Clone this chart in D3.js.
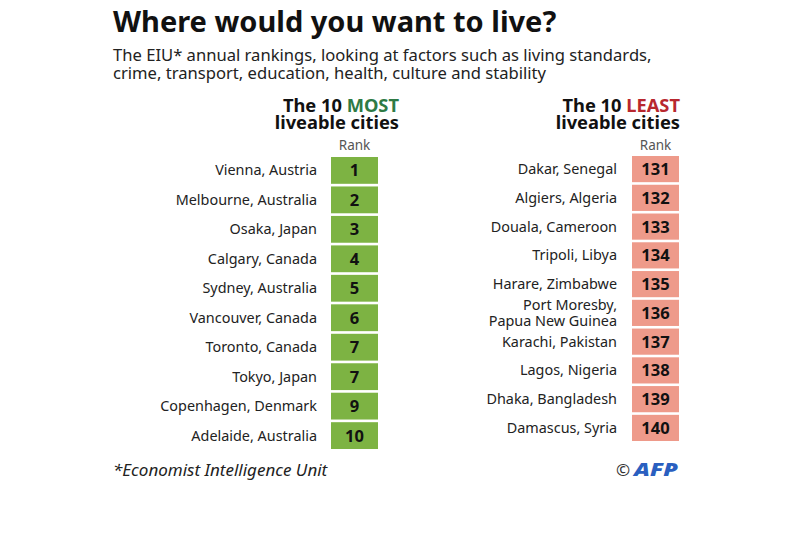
<!DOCTYPE html>
<html><head><meta charset="utf-8">
<script src="https://cdn.jsdelivr.net/npm/d3@7"></script>
<style>body{margin:0;background:#fff}svg{display:block}</style>
</head><body>
<script>
const mostCities = ["Vienna, Austria","Melbourne, Australia","Osaka, Japan","Calgary, Canada","Sydney, Australia","Vancouver, Canada","Toronto, Canada","Tokyo, Japan","Copenhagen, Denmark","Adelaide, Australia"];
const mostRanks = [1,2,3,4,5,6,7,7,9,10];
const leastCities = ["Dakar, Senegal","Algiers, Algeria","Douala, Cameroon","Tripoli, Libya","Harare, Zimbabwe","Port Moresby,\nPapua New Guinea","Karachi, Pakistan","Lagos, Nigeria","Dhaka, Bangladesh","Damascus, Syria"];
const leastRanks = [131,132,133,134,135,136,137,138,139,140];

const W = 800, H = 534;
const font = "'Noto Sans', 'Open Sans', sans-serif";
const svg = d3.select("body").append("svg").attr("width", W).attr("height", H)
  .style("font-family", font);

svg.append("text").attr("x", 113).attr("y", 32).attr("font-size", 29).attr("font-weight", 700)
  .attr("fill", "#111").text("Where would you want to live?");
const sub = svg.append("text").attr("x", 113).attr("font-size", 16.6).attr("fill", "#222");
sub.append("tspan").attr("x", 113).attr("y", 61).text("The EIU* annual rankings, looking at factors such as living standards,");
sub.append("tspan").attr("x", 113).attr("y", 79).text("crime, transport, education, health, culture and stability");

function panel(cities, ranks, opt) {
  const y = d3.scaleBand().domain(d3.range(cities.length)).range(opt.yr).paddingInner(0.09);
  const g = svg.append("g");
  const h1 = g.append("text").attr("x", opt.hx).attr("y", 111.5).attr("text-anchor", "end")
    .attr("font-size", 18.3).attr("font-weight", 700).attr("fill", "#111");
  h1.append("tspan").text("The 10 ");
  h1.append("tspan").attr("fill", opt.hc).text(opt.word);
  g.append("text").attr("x", opt.hx).attr("y", 128.5).attr("text-anchor", "end")
    .attr("font-size", 18.3).attr("font-weight", 700).attr("fill", "#111").text("liveable cities");
  g.append("text").attr("x", opt.cx + opt.cw / 2).attr("y", 150).attr("text-anchor", "middle")
    .attr("font-size", 13.5).attr("fill", "#555").text("Rank");
  g.selectAll("rect.c").data(ranks).join("rect")
    .attr("x", opt.cx).attr("width", opt.cw)
    .attr("y", (d, i) => y(i)).attr("height", y.bandwidth()).attr("fill", opt.fill);
  g.selectAll("text.r").data(ranks).join("text")
    .attr("x", opt.cx + opt.cw / 2).attr("y", (d, i) => y(i) + y.bandwidth() / 2 + 6)
    .attr("text-anchor", "middle").attr("font-size", 16.5).attr("font-weight", 700)
    .attr("fill", "#111").text(d => d);
  g.selectAll("text.n").data(cities).join("text")
    .attr("text-anchor", "end").attr("font-size", 14.4).attr("fill", "#222")
    .each(function(d, i) {
      const lines = d.split("\n");
      const mid = y(i) + y.bandwidth() / 2 + 5;
      lines.forEach((l, k) => {
        d3.select(this).append("tspan").attr("x", opt.lx)
          .attr("y", mid + (k - (lines.length - 1) / 2) * 15.5).text(l);
      });
    });
}

panel(mostCities, mostRanks, {yr: [157, 449], cx: 331, cw: 47, lx: 317, hx: 399,
  hc: "#2e7a45", word: "MOST", fill: "#7db343"});
panel(leastCities, leastRanks, {yr: [156, 441], cx: 632, cw: 47, lx: 617, hx: 680,
  hc: "#b8272e", word: "LEAST", fill: "#ee9a8a"});

svg.append("text").attr("x", 113).attr("y", 476).attr("font-size", 17).attr("font-style", "italic")
  .attr("fill", "#222").text("*Economist Intelligence Unit");
svg.append("text").attr("x", 616).attr("y", 476).attr("font-size", 17).attr("fill", "#333").text("©");
svg.append("text").attr("x", 634).attr("y", 476).attr("font-size", 18).attr("font-weight", 900)
  .attr("font-style", "italic").attr("fill", "#2a5fc0")
  .attr("textLength", 44).attr("lengthAdjust", "spacingAndGlyphs").text("AFP");
</script>
</body></html>
